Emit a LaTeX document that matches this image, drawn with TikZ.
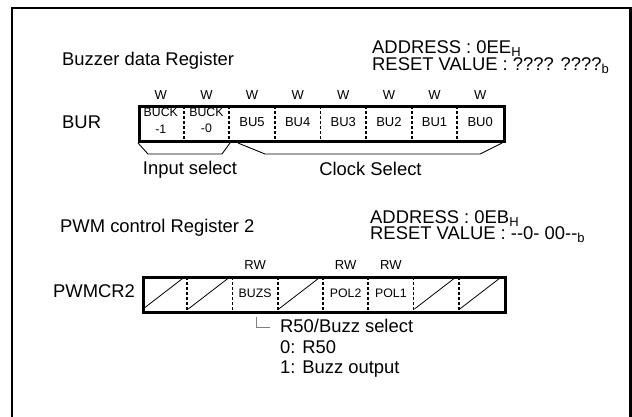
\documentclass[tikz,border=0pt]{standalone}
\usepackage{fontspec}
\setmainfont{Liberation Sans}[Ligatures=NoCommon]
\newcommand{\subtxt}[1]{\raisebox{-3pt}{\fontsize{13}{13}\selectfont #1}}
\begin{document}
\begin{tikzpicture}[x=1pt,y=-1pt,
  big/.style={font=\fontsize{18.4}{20}\selectfont, inner sep=0pt},
  addrl/.style={big, text depth=3pt, anchor=base west},
  resetl/.style={big, text height=13pt, anchor=base west},
  small/.style={font=\fontsize{13}{14}\selectfont, inner sep=0pt},
  tiny/.style={font=\fontsize{12.3}{16.5}\selectfont, inner sep=0pt, align=center},
  regbox/.style={draw, line width=3pt, inner sep=0pt, minimum width=#1, minimum height=35pt, anchor=north west},
  divider/.style={line width=1.8pt, dash pattern=on 3pt off 2pt},
  brace/.style={line width=0.9pt},
  slash/.style={line width=0.8pt},
]
\useasboundingbox (0,0) rectangle (632,416);
% frame
\draw[line width=2.2pt] (12,430) -- (12,8.3) -- (630.5,8.3) -- (630.5,430);

% ===== Buzzer data Register =====
\node[big, anchor=base west] (t1) at (62,65) {Buzzer data Register};
\node[addrl] (a1) at (372,53) {ADDRESS : 0EE\subtxt{H}};
\node[resetl] (r1) at (372,70) {RESET VALUE : ???? ????\subtxt{b}};
\node[big, anchor=base west] (burlbl) at (62,128) {BUR};

\node[regbox=365pt] (bur) at (138,105) {};
\foreach \i in {1,...,7}
  \draw[divider] ({138+45.625*\i},106) -- ({138+45.625*\i},139);
\foreach \i in {0,...,7}
  \node[small] (w\i) at ({138+45.625*(\i+0.5)},95.5) {W};
\node[tiny] (buck1) at ({138+45.625*0.5},120.5) {BUCK\\-1};
\node[tiny] (buck0) at ({138+45.625*1.5},120.5) {BUCK\\-0};
\foreach \i/\t in {2/BU5,3/BU4,4/BU3,5/BU2,6/BU1,7/BU0}
  \node[small] (bu\i) at ({138+45.625*(\i+0.5)},122.5) {\t};

\coordinate (ia) at (138,143);
\coordinate (ib) at (148,154);
\coordinate (ic) at (222,154);
\coordinate (id) at (230,143);
\draw[brace] (ia) -- (ib) -- (ic) -- (id);
\coordinate (ca) at (238,143);
\coordinate (cb) at (265,154);
\coordinate (cc) at (480,154);
\coordinate (cd) at (502,143);
\draw[brace] (ca) -- (cb) -- (cc) -- (cd);
\node[big, anchor=base] (insel) at (190,174) {Input select};
\node[big, anchor=base] (clksel) at (370.5,175) {Clock Select};

% ===== PWM control Register 2 =====
\node[big, anchor=base west] (t2) at (60,232) {PWM control Register 2};
\node[addrl] (a2) at (370,223) {ADDRESS : 0EB\subtxt{H}};
\node[resetl] (r2) at (370,239.5) {RESET VALUE : -{}-0- 00-{}-\subtxt{b}};
\node[big, anchor=base west] (pwmlbl) at (53,297) {PWMCR2};

\node[regbox=362pt] (pwm) at (142,276) {};
\foreach \i in {1,...,7}
  \draw[divider] ({142+45.25*\i},277) -- ({142+45.25*\i},310);
\foreach \i in {0,1,3,6,7}
  \draw[slash] ({142+45.25*\i+1},309) -- ({142+45.25*(\i+1)-4},278);
\foreach \i in {2,4,5}
  \node[small] (rw\i) at ({142+45.25*(\i+0.5)},265.5) {RW};
\node[tiny] (buzs) at ({142+45.25*2.5},293.5) {BUZS};
\node[tiny] (pol2) at ({142+45.25*4.5},293.5) {POL2};
\node[tiny] (pol1) at ({142+45.25*5.5},293.5) {POL1};

\coordinate (la) at (256,317);
\coordinate (lb) at (256,327);
\coordinate (lc) at (270,327);
\draw[gray, line width=0.9pt] (la) -- (lb) -- (lc);
\node[big, anchor=base west] (n1) at (280,332) {R50/Buzz select};
\node[big, anchor=base west] (n2) at (280,353) {0: R50};
\node[big, anchor=base west] (n3) at (280,373.5) {1: Buzz output};
\end{tikzpicture}
\end{document}
